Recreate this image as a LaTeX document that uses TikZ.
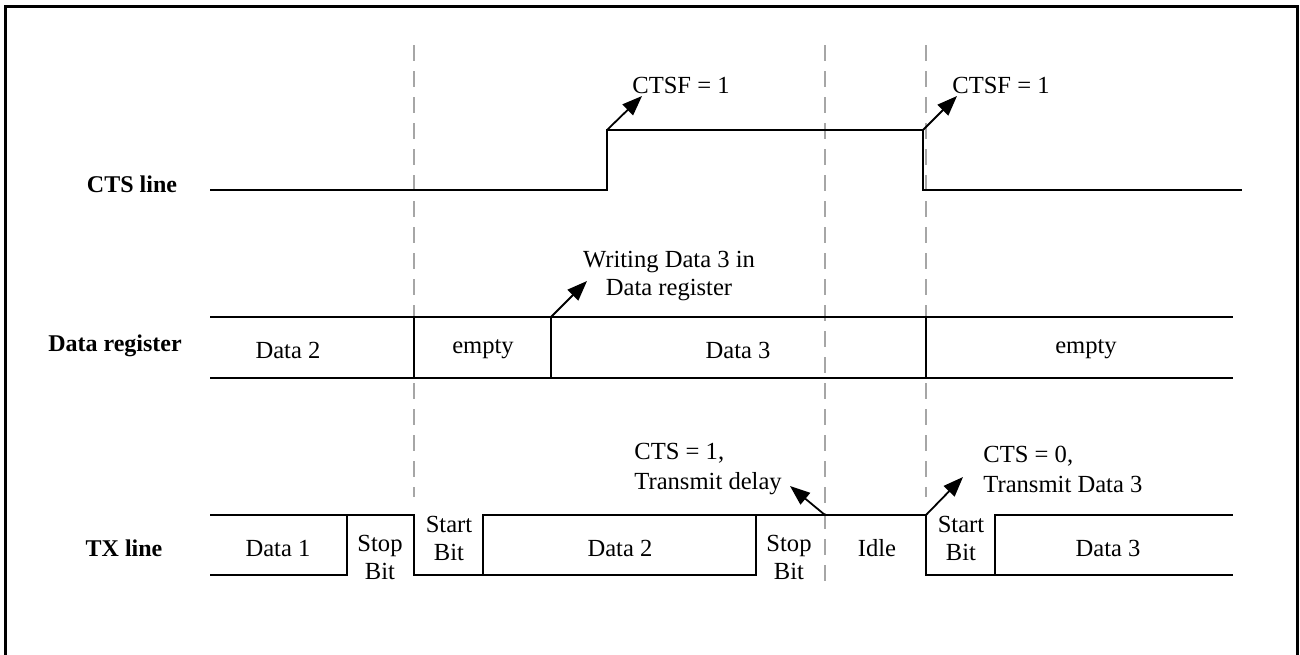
\documentclass[tikz,border=0pt]{standalone}
\usepackage{fontspec}
\setmainfont{Liberation Serif}
\usetikzlibrary{arrows.meta}
\begin{document}
\begin{tikzpicture}[x=0.5pt,y=-0.5pt,
  wave/.style={line width=1pt, line join=miter},
  guide/.style={black!35, line width=0.7pt, dash pattern=on 8pt off 5pt},
  note/.style={-{Triangle[length=10pt,width=7.5pt]}, line width=0.9pt},
  lbl/.style={font=\fontsize{12.3}{14}\selectfont, inner sep=0pt, align=center},
  side/.style={font=\fontsize{12.3}{15}\selectfont, inner sep=0pt, align=left, anchor=west},
  rowlbl/.style={font=\fontsize{12}{14}\selectfont\bfseries, inner sep=0pt}
]
\useasboundingbox (0,0) rectangle (1300,654);
\draw[line width=1.5pt] (5,6) rectangle (1297,680);

% guide lines
\draw[guide] (414,45) -- (414,497);
\draw[guide] (825,45) -- (825,582);
\draw[guide] (926,45) -- (926,497);

% row labels
\node[rowlbl] (lcts) at (132,184) {CTS line};
\node[rowlbl] (ldr) at (115,346) {Data register};
\node[rowlbl] (ltx) at (124,548) {TX line};

% CTS line
\coordinate (ctsup) at (607,130);
\coordinate (ctsdn) at (923,130);
\draw[wave] (210,190) -- (607,190) -- (ctsup) -- (ctsdn) -- (923,190) -- (1242,190);
\node[lbl] (f1) at (681,85) {CTSF = 1};
\node[lbl] (f2) at (1001,85) {CTSF = 1};
\coordinate (f1t) at (642,96);
\coordinate (f2t) at (957,96);
\draw[note] (ctsup) -- (f1t);
\draw[note] (ctsdn) -- (f2t);

% Data register
\draw[wave] (210,317) -- (1233,317);
\draw[wave] (210,378) -- (1233,378);
\draw[wave] (414,317) -- (414,378);
\coordinate (wr) at (551,317);
\draw[wave] (wr) -- (551,378);
\draw[wave] (926,317) -- (926,378);
\node[lbl] (d2) at (288,350) {Data 2};
\node[lbl] (e1) at (483,349) {empty};
\node[lbl] (d3) at (738,350) {Data 3};
\node[lbl] (e2) at (1086,349) {empty};
\node[lbl] (wlab) at (669,276) {Writing Data 3 in\\Data register};
\coordinate (wrt) at (587,281);
\draw[note] (wr) -- (wrt);

% TX line
\draw[wave] (210,515) -- (414,515) -- (414,575) -- (483,575) -- (483,515) -- (926,515) -- (926,575) -- (995,575) -- (995,515) -- (1233,515);
\draw[wave] (210,575) -- (347,575) -- (347,515);
\draw[wave] (483,575) -- (756,575) -- (756,515);
\draw[wave] (995,575) -- (1233,575);
\node[lbl] (t1) at (278,548) {Data 1};
\node[lbl] (t2) at (380,557) {Stop\\Bit};
\node[lbl] (t3) at (449,538) {Start\\Bit};
\node[lbl] (t4) at (620,548) {Data 2};
\node[lbl] (t5) at (789,557) {Stop\\Bit};
\node[lbl] (t6) at (877,548) {Idle};
\node[lbl] (t7) at (961,538) {Start\\Bit};
\node[lbl] (t8) at (1108,548) {Data 3};

\coordinate (s1) at (825,515);
\coordinate (s2) at (926,515);
\node[side] (n1) at (634,469) {CTS = 1,\\Transmit delay};
\node[side] (n2) at (983,469) {CTS = 0,\\Transmit Data 3};
\coordinate (n1t) at (790,486);
\coordinate (n2t) at (963,477);
\draw[note] (s1) -- (n1t);
\draw[note] (s2) -- (n2t);
\end{tikzpicture}
\end{document}
